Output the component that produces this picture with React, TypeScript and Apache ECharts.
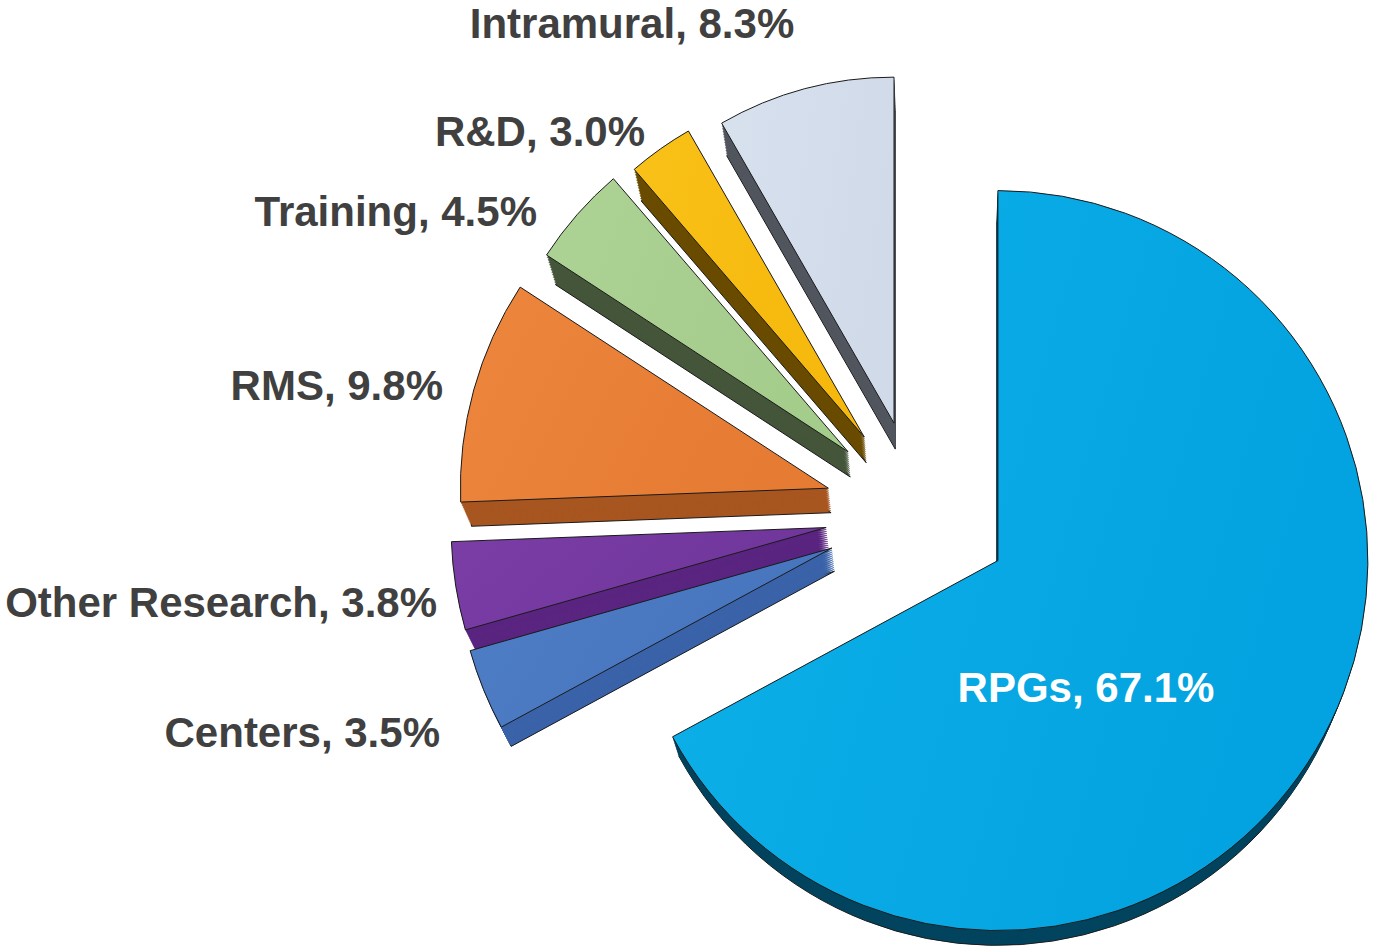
import React, { useEffect, useRef } from "react";
import * as echarts from "echarts";

// ---- data ----
const categories = ["RPGs", "Centers", "Other Research", "RMS", "Training", "R&D", "Intramural"];
const shares = [67.1, 3.5, 3.8, 9.8, 4.5, 3.0, 8.3];

// ---- styles ----
const topLight = ["#0db1e9", "#4e7ec5", "#7a3ea6", "#ed863d", "#add295", "#f9c118", "#d8e1ee"];
const topDark = ["#03a2e0", "#4674bd", "#70359b", "#e67b33", "#a4cc8b", "#f6b80c", "#d0dae9"];
const sideColors = ["#03445f", "#3a63a9", "#5a2580", "#a85621", "#45563a", "#6a4c00", "#52575f"];
const labelColors = ["#ffffff", "#404040", "#404040", "#404040", "#404040", "#404040", "#404040"];
// per-slice drawn radius (perspective: far slices look shorter)
const sliceRadius = [370, 376, 375, 368, 360, 353, 346];
// label anchor: x, y (middle), align
const labelAnchors: [number, number, string][] = [
  [1086, 687, "center"],
  [440, 732, "right"],
  [437, 602, "right"],
  [443, 385, "right"],
  [537, 211, "right"],
  [645, 131, "right"],
  [632, 23, "center"],
];

const CENTER = [918, 513];
const EXPLODE = 93;
const VANISH = [951, 1603];
const DEPTH = 0.022;
const LAYERS = 12;
const FONT = "bold 42px 'Liberation Sans', Arial, sans-serif";

function pieFor(
  j: number,
  center: number[],
  scale: number,
  colorOf: (k: number) => any,
  border: string | null
) {
  return {
    type: "pie",
    silent: true,
    center,
    radius: sliceRadius[j] * scale,
    startAngle: 90,
    clockwise: true,
    selectedMode: "multiple",
    selectedOffset: EXPLODE * scale,
    label: { show: false },
    labelLine: { show: false },
    emphasis: { disabled: true },
    data: categories.map((c, k) => ({
      name: c,
      value: shares[k],
      selected: true,
      itemStyle:
        k === j
          ? {
              color: colorOf(k),
              borderColor: border || sideColors[k],
              borderWidth: border ? 1 : 0.5,
            }
          : { color: "rgba(0,0,0,0)", borderWidth: 0 },
    })),
  };
}

export default function App() {
  const ref = useRef<HTMLDivElement>(null);
  useEffect(() => {
    if (!ref.current) return;
    const chart = echarts.init(ref.current, null, { renderer: "svg" });
    const series: any[] = [];
    for (let i = LAYERS; i >= 1; i--) {
      const s = 1 - (DEPTH * i) / LAYERS;
      const cx = VANISH[0] + s * (CENTER[0] - VANISH[0]);
      const cy = VANISH[1] + s * (CENTER[1] - VANISH[1]);
      categories.forEach((_, j) => {
        series.push(
          pieFor(j, [cx, cy], s, (k) => sideColors[k], i === LAYERS ? "#1a1a1a" : null)
        );
      });
    }
    categories.forEach((_, j) => {
      series.push(
        pieFor(
          j,
          CENTER,
          1,
          (k) =>
            new echarts.graphic.LinearGradient(0, 0, 1, 0.3, [
              { offset: 0, color: topLight[k] },
              { offset: 1, color: topDark[k] },
            ]),
          "#1a1a1a"
        )
      );
    });
    const graphic = categories.map((c, k) => ({
      type: "text",
      x: labelAnchors[k][0],
      y: labelAnchors[k][1],
      z: 100,
      silent: true,
      style: {
        text: `${c}, ${shares[k].toFixed(1)}%`,
        font: FONT,
        fill: labelColors[k],
        align: labelAnchors[k][2],
        textAlign: labelAnchors[k][2],
        verticalAlign: "middle",
        textVerticalAlign: "middle",
      },
    }));
    chart.setOption({ animation: false, backgroundColor: "#ffffff", series, graphic });
    return () => chart.dispose();
  }, []);
  return (
    <div
      ref={ref}
      style={{ position: "fixed", left: 0, top: 0, width: 1377, height: 947, background: "#fff" }}
    />
  );
}
